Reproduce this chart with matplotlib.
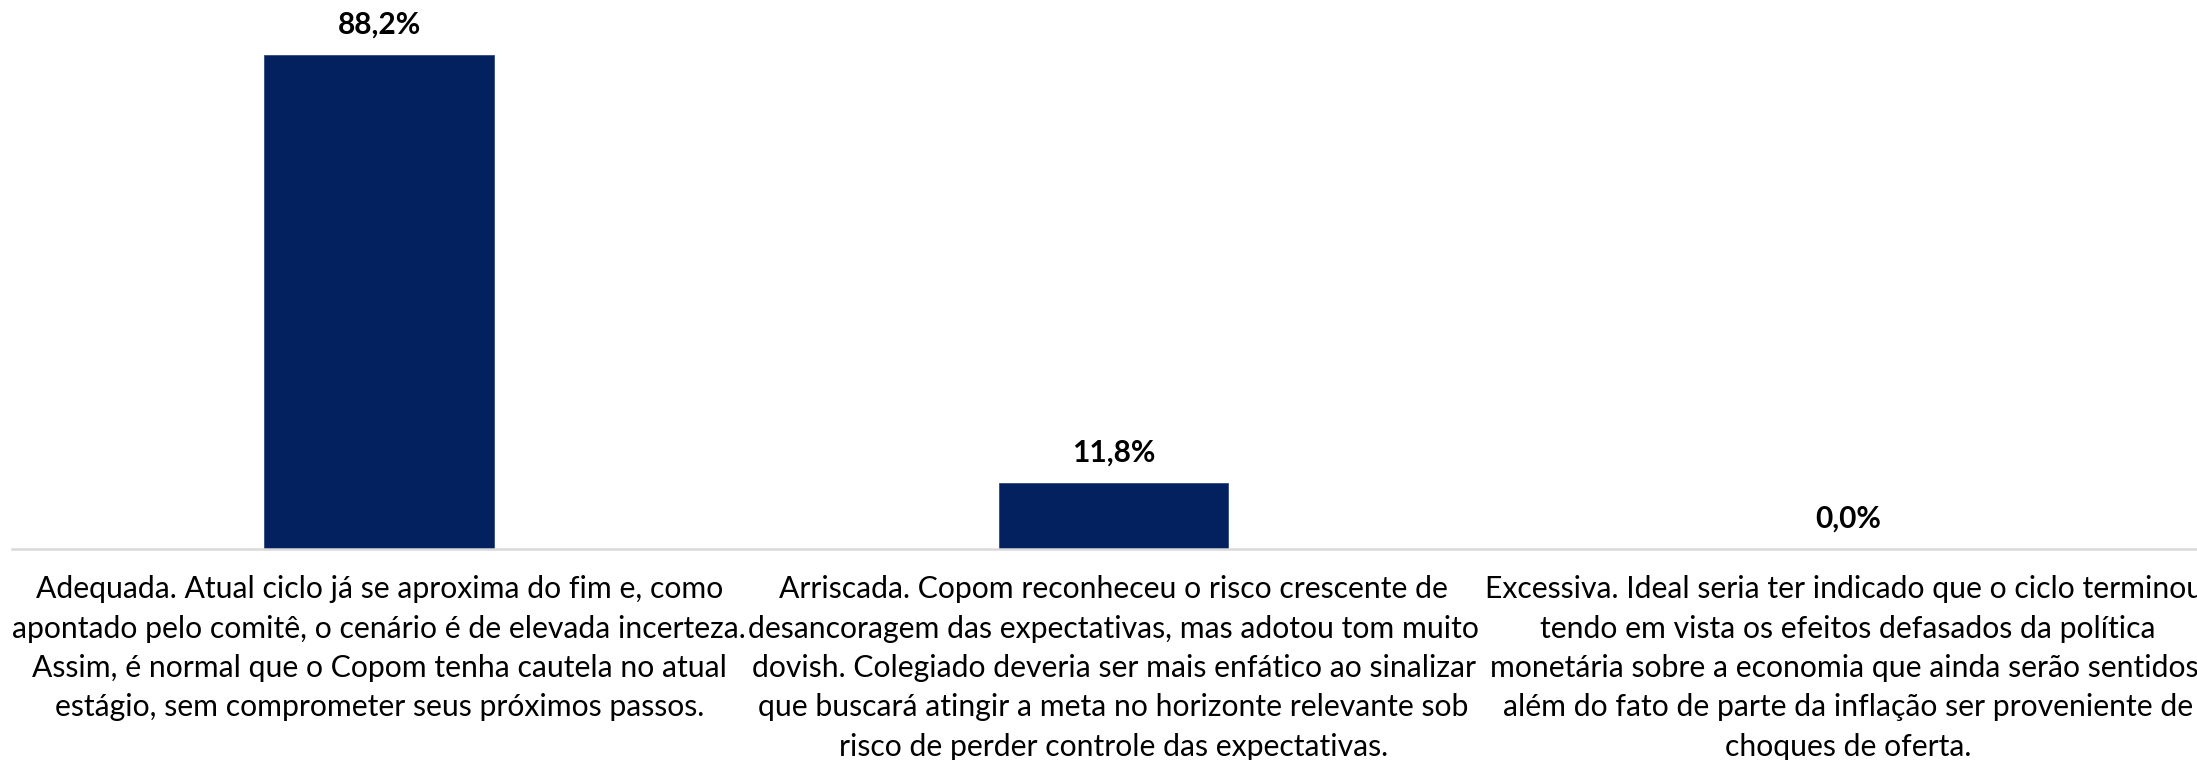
import numpy as np
import matplotlib
matplotlib.use("Agg")
import matplotlib.pyplot as plt

# data
categories = [
    "Adequada. Atual ciclo já se aproxima do fim e, como\n"
    "apontado pelo comitê, o cenário é de elevada incerteza.\n"
    "Assim, é normal que o Copom tenha cautela no atual\n"
    "estágio, sem comprometer seus próximos passos.",
    "Arriscada. Copom reconheceu o risco crescente de\n"
    "desancoragem das expectativas, mas adotou tom muito\n"
    "dovish. Colegiado deveria ser mais enfático ao sinalizar\n"
    "que buscará atingir a meta no horizonte relevante sob\n"
    "risco de perder controle das expectativas.",
    "Excessiva. Ideal seria ter indicado que o ciclo terminou,\n"
    "tendo em vista os efeitos defasados da política\n"
    "monetária sobre a economia que ainda serão sentidos,\n"
    "além do fato de parte da inflação ser proveniente de\n"
    "choques de oferta.",
]
values = [88.2, 11.8, 0.0]
value_labels = ["88,2%", "11,8%", "0,0%"]

font = "Lato"

W, H = 2197, 760
fig = plt.figure(figsize=(W / 100, H / 100), dpi=100)
# axes: x from 12 px to 2215 px, baseline at 549 px from top
ymax = 95
px_per_unit = (549 - 55) / 88.2
ax_h = ymax * px_per_unit
ax = fig.add_axes([12 / W, (H - 549) / H, (2215 - 12) / W, ax_h / H])

x = np.arange(len(values))
ax.bar(x, values, width=0.313, color="#03215E", edgecolor="#2F4A80", linewidth=0.6, zorder=2)
ax.set_xlim(-0.5, 2.5)
ax.set_ylim(0, ymax)

for xi, v, lab in zip(x, values, value_labels):
    ax.annotate(lab, (xi, v), xytext=(0, 12), textcoords="offset points",
                ha="center", va="bottom", fontsize=21.5, fontweight="bold",
                family=font, color="black")

# scale font so the widest label line matches the reference (~733 px)
r = fig.canvas.get_renderer()
t = fig.text(0, 0, "apontado pelo comitê, o cenário é de elevada incerteza.",
             fontsize=22, family=font)
w = t.get_window_extent(r).width
t.remove()
fs = 22 * 733 / w
# line pitch in reference is ~38.3 px
ls = 38.3 / (fs * 100 / 72) / 0.85
print(w, fs, ls)

ax.set_xticks(x)
ax.set_xticklabels(categories, fontsize=fs, family=font, linespacing=ls, color="black")
ax.tick_params(axis="x", length=0, pad=19)
ax.set_yticks([])
for s in ["top", "left", "right"]:
    ax.spines[s].set_visible(False)
ax.spines["bottom"].set_color("#D9D9D9")
ax.spines["bottom"].set_linewidth(1.8)

fig.savefig("out.png", dpi=100)
